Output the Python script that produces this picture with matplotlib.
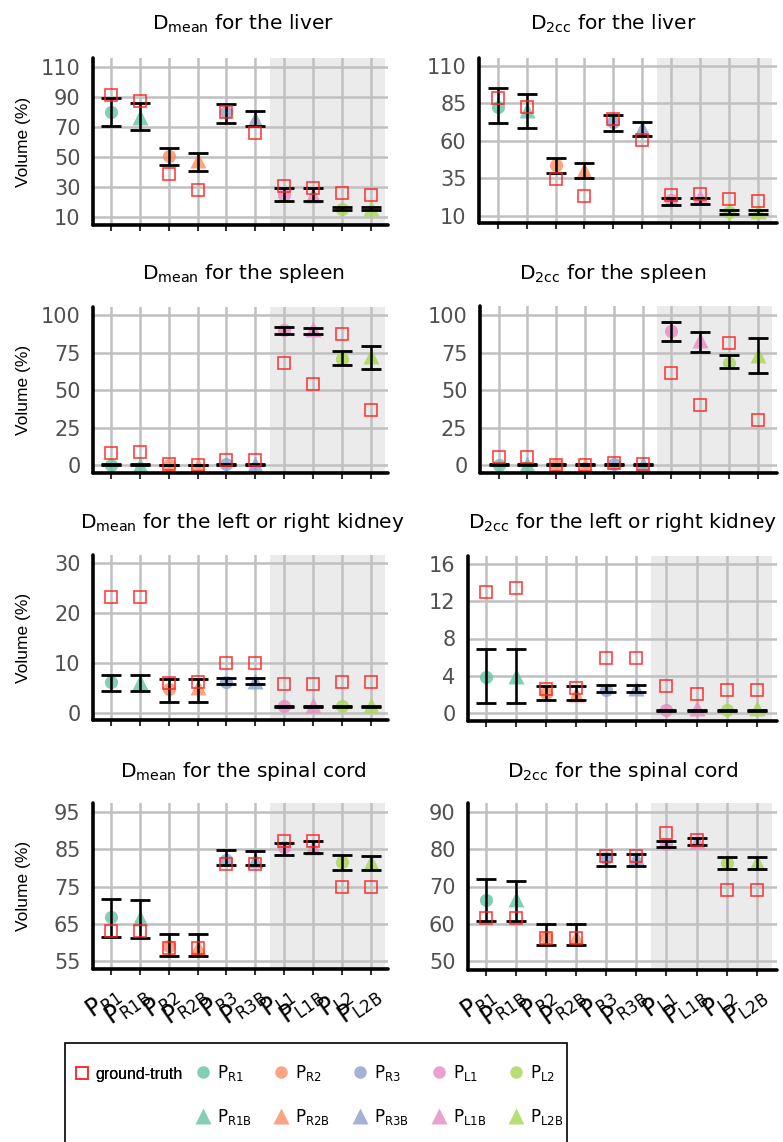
import matplotlib
matplotlib.use("Agg")
import matplotlib.pyplot as plt
from matplotlib.lines import Line2D
from matplotlib.patches import Rectangle
import numpy as np

plt.rcParams["font.family"] = ["DejaVu Sans"]

# ---------------- data ----------------
categories = ["R1", "R1B", "R2", "R2B", "R3", "R3B", "L1", "L1B", "L2", "L2B"]
tick_labels = [r"$\mathregular{P_{%s}}$" % c for c in categories]

# Dmean liver
liver_dmean_mean = [80.0, 77.0, 50.7, 48.0, 80.0, 75.6, 25.0, 25.0, 15.6, 16.0]
liver_dmean_lo = [70.9, 67.8, 44.7, 41.0, 73.0, 70.7, 20.4, 20.4, 14.4, 14.4]
liver_dmean_hi = [89.3, 86.0, 56.2, 53.0, 85.6, 81.0, 29.3, 29.3, 17.0, 17.0]
liver_dmean_gt = [91.6, 87.3, 38.9, 27.8, 80.0, 66.2, 30.7, 29.3, 26.2, 24.9]

# D2cc liver
liver_d2cc_mean = [82.7, 80.5, 43.9, 40.6, 72.7, 68.3, 20.6, 22.9, 12.4, 13.5]
liver_d2cc_lo = [71.6, 68.8, 38.8, 35.5, 66.5, 63.2, 17.3, 17.8, 11.1, 11.1]
liver_d2cc_hi = [94.9, 90.9, 48.6, 45.5, 77.0, 72.7, 22.2, 22.2, 13.8, 13.8]
liver_d2cc_gt = [88.7, 82.3, 34.4, 23.1, 74.7, 60.6, 24.0, 24.4, 21.3, 20.0]

# Dmean spleen
spleen_dmean_mean = [0.3, 0.3, 0.2, 0.2, 0.8, 1.2, 90.0, 91.0, 71.0, 72.7]
spleen_dmean_lo = [0.2, 0.2, 0.1, 0.1, 0.4, 0.4, 87.3, 87.8, 66.7, 64.4]
spleen_dmean_hi = [0.6, 0.6, 0.4, 0.4, 0.9, 0.9, 92.2, 91.6, 76.2, 79.3]
spleen_dmean_gt = [8.2, 8.7, 0.7, 0.4, 3.8, 3.8, 68.4, 54.4, 87.8, 37.1]

# D2cc spleen
spleen_d2cc_mean = [0.3, 1.0, 0.2, 0.3, 0.8, 1.0, 89.6, 83.3, 68.2, 73.3]
spleen_d2cc_lo = [0.1, 0.1, 0.1, 0.1, 0.1, 0.1, 82.7, 75.6, 64.4, 61.1]
spleen_d2cc_hi = [0.5, 0.5, 0.5, 0.5, 0.5, 0.5, 95.6, 88.9, 73.1, 84.9]
spleen_d2cc_gt = [5.1, 5.1, 0.2, 0.2, 1.2, 1.0, 61.6, 40.0, 81.6, 29.8]

# Dmean kidney
kidney_dmean_mean = [6.2, 6.2, 4.8, 5.2, 6.3, 6.5, 1.5, 1.7, 1.4, 1.7]
kidney_dmean_lo = [4.5, 4.5, 2.3, 2.3, 5.9, 5.9, 1.2, 1.2, 1.2, 1.2]
kidney_dmean_hi = [7.7, 7.7, 6.9, 6.9, 7.0, 7.0, 1.5, 1.5, 1.5, 1.5]
kidney_dmean_gt = [23.2, 23.2, 6.1, 6.2, 10.0, 10.0, 5.8, 5.8, 6.3, 6.3]

# D2cc kidney
kidney_d2cc_mean = [3.9, 4.0, 2.2, 2.1, 2.5, 2.7, 0.3, 0.55, 0.3, 0.55]
kidney_d2cc_lo = [1.03, 1.03, 1.45, 1.45, 2.29, 2.29, 0.25, 0.25, 0.25, 0.25]
kidney_d2cc_hi = [6.86, 6.86, 2.93, 2.93, 2.97, 2.97, 0.35, 0.35, 0.35, 0.35]
kidney_d2cc_gt = [13.0, 13.4, 2.6, 2.67, 5.9, 5.9, 2.9, 2.0, 2.5, 2.5]

# Dmean spinal cord
cord_dmean_mean = [66.8, 66.5, 59.1, 58.8, 82.0, 82.0, 85.5, 85.5, 81.5, 81.5]
cord_dmean_lo = [61.5, 61.3, 56.4, 56.4, 80.7, 80.7, 83.4, 83.9, 79.5, 79.5]
cord_dmean_hi = [71.6, 71.4, 62.3, 62.3, 84.7, 84.4, 86.6, 87.3, 83.4, 83.2]
cord_dmean_gt = [63.2, 63.2, 58.4, 58.4, 81.1, 81.1, 87.3, 87.3, 75.0, 75.0]

# D2cc spinal cord
cord_d2cc_mean = [66.4, 66.7, 56.5, 56.5, 77.6, 77.8, 81.3, 82.2, 76.2, 76.5]
cord_d2cc_lo = [60.7, 60.7, 54.2, 54.2, 75.6, 75.6, 80.7, 81.2, 74.7, 74.7]
cord_d2cc_hi = [72.0, 71.4, 59.9, 59.9, 78.8, 78.7, 82.2, 82.9, 77.8, 77.8]
cord_d2cc_gt = [61.5, 61.5, 56.2, 56.2, 78.2, 78.2, 84.4, 82.5, 69.1, 69.1]

titles = [
    r"D$_{\mathregular{mean}}$ for the liver",
    r"D$_{\mathregular{2cc}}$ for the liver",
    r"D$_{\mathregular{mean}}$ for the spleen",
    r"D$_{\mathregular{2cc}}$ for the spleen",
    r"D$_{\mathregular{mean}}$ for the left or right kidney",
    r"D$_{\mathregular{2cc}}$ for the left or right kidney",
    r"D$_{\mathregular{mean}}$ for the spinal cord",
    r"D$_{\mathregular{2cc}}$ for the spinal cord",
]
yticks_list = [
    [10, 30, 50, 70, 90, 110],
    [10, 35, 60, 85, 110],
    [0, 25, 50, 75, 100],
    [0, 25, 50, 75, 100],
    [0, 10, 20, 30],
    [0, 4, 8, 12, 16],
    [55, 65, 75, 85, 95],
    [50, 60, 70, 80, 90],
]
panel_data = [
    (liver_dmean_mean, liver_dmean_lo, liver_dmean_hi, liver_dmean_gt),
    (liver_d2cc_mean, liver_d2cc_lo, liver_d2cc_hi, liver_d2cc_gt),
    (spleen_dmean_mean, spleen_dmean_lo, spleen_dmean_hi, spleen_dmean_gt),
    (spleen_d2cc_mean, spleen_d2cc_lo, spleen_d2cc_hi, spleen_d2cc_gt),
    (kidney_dmean_mean, kidney_dmean_lo, kidney_dmean_hi, kidney_dmean_gt),
    (kidney_d2cc_mean, kidney_d2cc_lo, kidney_d2cc_hi, kidney_d2cc_gt),
    (cord_dmean_mean, cord_dmean_lo, cord_dmean_hi, cord_dmean_gt),
    (cord_d2cc_mean, cord_d2cc_lo, cord_d2cc_hi, cord_d2cc_gt),
]

# ---------------- layout / style ----------------
W, H = 783, 1142
fig = plt.figure(figsize=(W / 100, H / 100), dpi=100)

boxes = [  # left, top, right, bottom in pixels
    (93, 58, 388, 225), (479, 58, 777, 223),
    (93, 307, 388, 473), (480, 306, 777, 473),
    (93, 555, 388, 720), (468, 556, 777, 721),
    (93, 803, 388, 969), (468, 803, 777, 970),
]
ylims = [(4.67, 116), (5.3, 115.1), (-5.1, 105.5), (-5.3, 106),
         (-1.3, 31.6), (-0.85, 16.85), (52.9, 97.4), (47.6, 92.4)]
xlims = [(-0.62, 9.59), (-0.65, 9.67), (-0.62, 9.59), (-0.65, 9.67),
         (-0.62, 9.59), (-0.59, 9.67), (-0.62, 9.59), (-0.59, 9.67)]
title_pos = [(243, 30), (613, 30), (243, 279), (613, 279),
             (242, 528), (623, 528), (243, 777), (623, 777)]

set2 = ["#66c2a5", "#fc8d62", "#8da0cb", "#e78ac3", "#a6d854"]
pt_colors = [set2[i // 2] for i in range(10)]
pt_markers = ["o" if i % 2 == 0 else "^" for i in range(10)]
pt_sizes = [9.5 if i % 2 == 0 else 11.5 for i in range(10)]
gt_color = "#ff2020"

x = np.arange(len(categories))

for k in range(8):
    l, t, r, b = boxes[k]
    ax = fig.add_axes([l / W, 1 - b / H, (r - l) / W, (b - t) / H])
    mean, lo, hi, gt = [np.array(v, dtype=float) for v in panel_data[k]]

    ax.axvspan(5.5, 9.5, color="#ebebeb", zorder=0, lw=0)
    ax.set_axisbelow(True)
    ax.grid(True, color="#c0c0c0", lw=1.8)

    for i in range(10):
        ax.plot(x[i], mean[i], linestyle="none", marker=pt_markers[i],
                ms=pt_sizes[i], color=pt_colors[i], alpha=0.8, mec="none", zorder=3)
    center = (lo + hi) / 2
    ax.errorbar(x, center, yerr=(hi - lo) / 2, fmt="none", ecolor="black",
                elinewidth=1.8, capsize=7.4, capthick=2.0, zorder=4)
    ax.plot(x, gt, linestyle="none", marker="s", ms=8.6, mfc="none",
            mec=gt_color, mew=1.2, alpha=0.85, zorder=5)

    ax.set_xlim(*xlims[k])
    ax.set_ylim(*ylims[k])
    ax.set_yticks(yticks_list[k], [str(v) for v in yticks_list[k]],
                  fontfamily="DejaVu Sans", fontsize=15, color="#505050")
    if k >= 6:
        ax.set_xticks(x, tick_labels, rotation=35, ha="right", va="top",
                      rotation_mode="anchor", fontsize=17,
                      fontfamily="DejaVu Sans")
    else:
        ax.set_xticks(x, [""] * len(x))
    ax.tick_params(axis="x", length=4, width=1.5, color="#333333", pad=5)
    ax.tick_params(axis="y", length=0, pad=9)

    for s in ["top", "right"]:
        ax.spines[s].set_visible(False)
    for s in ["left", "bottom"]:
        ax.spines[s].set_linewidth(2.6)
        ax.spines[s].set_color("black")
        ax.spines[s].set_capstyle("round")
        ax.spines[s].set_zorder(6)

    if k % 2 == 0:
        ax.set_ylabel("Volume (%)", fontsize=12.5, fontfamily="Liberation Sans")
        ax.yaxis.set_label_coords((31 - l) / (r - l), 0.5)

    tx, ty = title_pos[k]
    fig.text(tx / W, 1 - ty / H, titles[k], ha="center", va="baseline",
             fontsize=14.5, fontfamily="DejaVu Sans")

# ---------------- legend ----------------
gt_handle = Line2D([], [], linestyle="none", marker="s", ms=8.6, mfc="none",
                   mec=gt_color, mew=1.2, alpha=0.85)
legA = fig.legend([gt_handle], ["ground-truth"], loc="upper left",
                  bbox_to_anchor=(73.7 / W, 1 - 1067 / H), frameon=False,
                  borderpad=0, borderaxespad=0, handlelength=1.0,
                  handletextpad=0.33,
                  prop={"family": "Liberation Sans", "size": 11.5})

pred_handles = []
pred_labels = []
for i in range(10):
    pred_handles.append(Line2D([], [], linestyle="none", marker=pt_markers[i],
                               ms=pt_sizes[i] * 0.95, color=pt_colors[i],
                               alpha=0.8, mec="none"))
    pred_labels.append(tick_labels[i])
legB = fig.legend(pred_handles, pred_labels, ncol=5, loc="upper left",
                  bbox_to_anchor=(195.6 / W, 1 - 1063 / H), frameon=False,
                  borderpad=0, borderaxespad=0, handlelength=0.85,
                  handletextpad=0.41, columnspacing=1.37, labelspacing=1.43,
                  prop={"family": "DejaVu Sans", "size": 12})
fig.add_artist(legA)

frame = Rectangle((65 / W, 1 - 1165 / H), 502 / W, 122 / H,
                  transform=fig.transFigure, fill=False, ec="black", lw=1.2)
fig.add_artist(frame)

fig.savefig("out.png", dpi=100)
